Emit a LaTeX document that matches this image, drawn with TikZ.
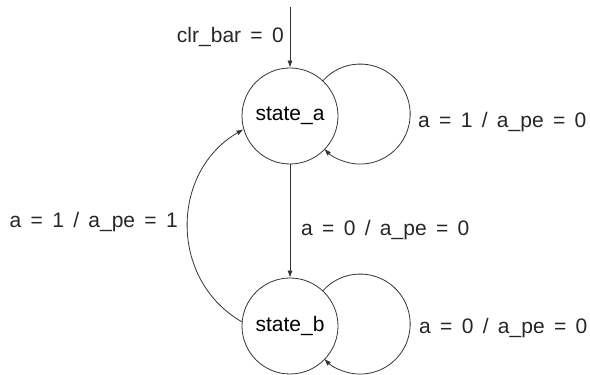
\documentclass[tikz,border=0pt]{standalone}
\usepackage{fontspec}
\setmainfont{Liberation Sans}[WordSpace=1.6]
\usetikzlibrary{arrows.meta}
\begin{document}
\begin{tikzpicture}[x=1pt,y=1pt,
  every node/.style={font=\fontsize{21}{25}\selectfont, inner sep=0pt},
  statenode/.style={circle, draw=black!80, line width=0.8pt, minimum size=96pt},
  conn/.style={draw=black!80, line width=0.8pt, -{Latex[length=7pt,width=5pt]}},
  lab/.style={text=black!85}]
\useasboundingbox (0,0) rectangle (590,375);
\node[statenode] (a) at (290,259) {state\_a};
\node[statenode] (b) at (290,49) {state\_b};
\coordinate (init) at (290,368);
\draw[conn] (init) -- (a.north);
\node[lab, anchor=east] (lclr) at (284,338) {clr\_bar = 0};
% self loop on state_a
\draw[conn] (a.47) arc[start angle=138, end angle=-136, radius=50];
\node[lab, anchor=west] (lla) at (418,253) {a = 1 / a\_pe = 0};
% a -> b
\draw[conn] (a.south) -- (b.north);
\node[lab, anchor=west] (lab1) at (301,145) {a = 0 / a\_pe = 0};
% self loop on state_b
\draw[conn] (b.47) arc[start angle=138, end angle=-136, radius=50];
\node[lab, anchor=west] (llb) at (419,47) {a = 0 / a\_pe = 0};
% b -> a
\draw[conn] (b.175) to[out=150, in=210, looseness=1.12] (a.196);
\node[lab, anchor=east] (lba) at (178,153) {a = 1 / a\_pe = 1};
\end{tikzpicture}
\end{document}
